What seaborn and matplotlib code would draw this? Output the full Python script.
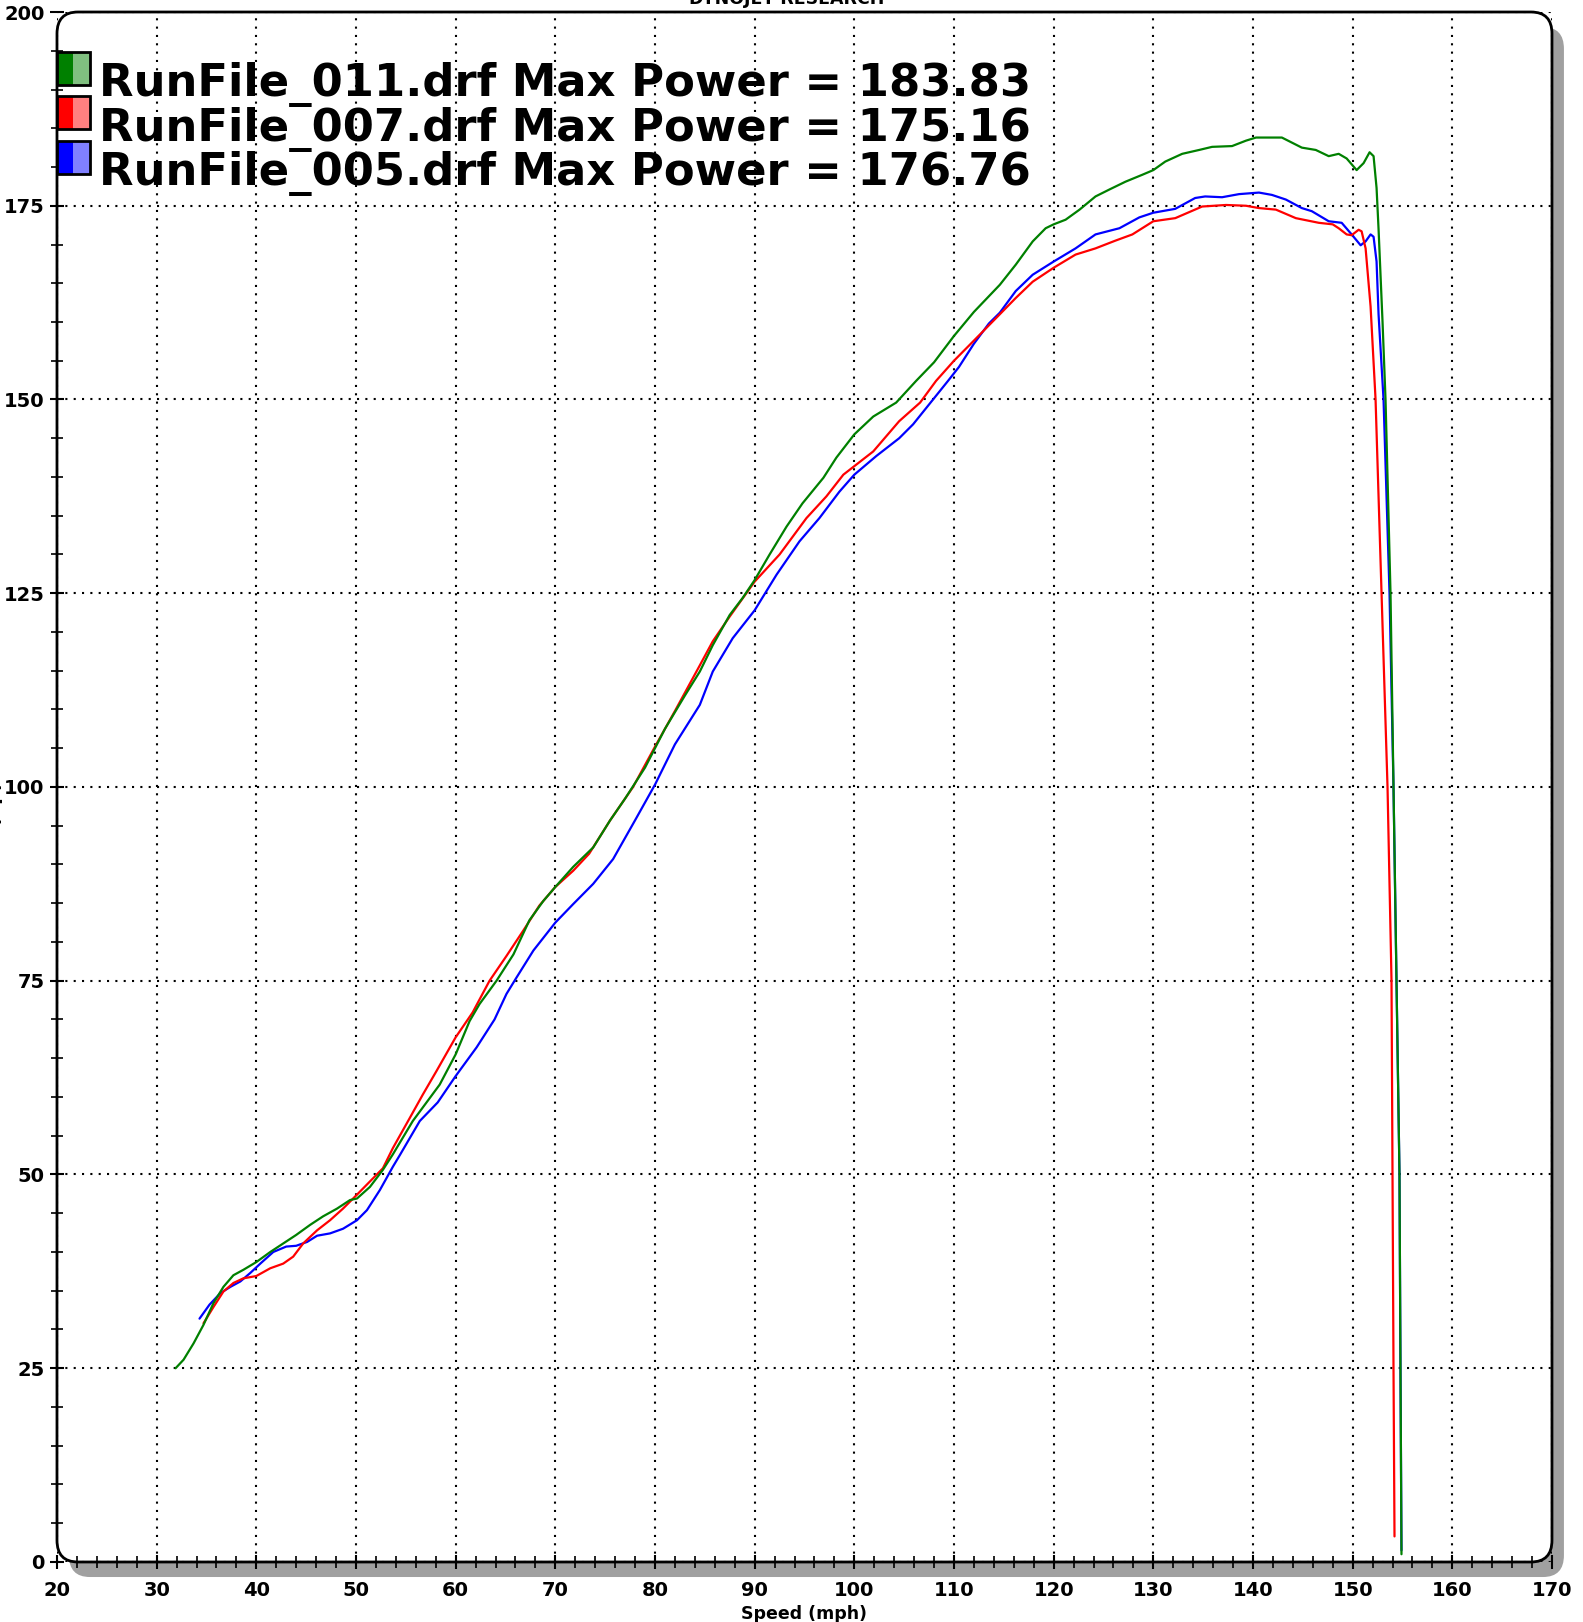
import matplotlib
matplotlib.use("Agg")
import matplotlib.pyplot as plt
import seaborn as sns
import pandas as pd
from matplotlib.patches import FancyBboxPatch, Rectangle
from matplotlib.ticker import MultipleLocator

# ---------------- data ----------------
run_names = ["RunFile_011.drf", "RunFile_007.drf", "RunFile_005.drf"]
max_power = ["183.83", "175.16", "176.76"]
line_colors = ["#008000", "#ff0000", "#0000ff"]
light_colors = ["#80c080", "#ff8080", "#8080ff"]

green_speed = [31.9, 32.7, 33.7, 34.7, 35.7, 36.7, 37.7, 38.7, 40.0, 41.4, 42.7, 44.0, 45.4, 46.7,
               48.1, 49.4, 50.1, 51.4, 52.7, 53.7, 55.7, 58.4, 60.0, 61.4, 62.4, 64.1, 65.8, 67.4,
               68.8, 70.0, 71.8, 73.8, 75.5, 77.0, 79.0, 81.0, 83.0, 84.5, 85.8, 87.5, 88.8, 90.0,
               91.5, 93.2, 94.8, 96.9, 98.2, 100.0, 101.9, 104.2, 106.2, 108.0, 110.0, 112.0, 114.6,
               116.2, 117.9, 119.2, 120.0, 121.2, 122.6, 124.2, 125.6, 127.2, 128.9, 130.0, 131.2,
               132.9, 134.6, 135.9, 137.9, 139.3, 140.3, 142.9, 144.9, 146.3, 147.6, 148.6, 149.4,
               150.4, 151.1, 151.7, 152.1, 152.4, 152.6, 153.0, 153.3, 153.8, 154.1, 154.4, 154.7,
               154.8, 154.9]
green_power = [25.0, 26.1, 28.2, 30.6, 33.4, 35.5, 37.0, 37.7, 38.7, 40.0, 41.1, 42.2, 43.5, 44.6,
               45.6, 46.7, 46.9, 48.4, 50.6, 52.6, 56.9, 61.6, 65.5, 69.8, 72.0, 75.0, 78.4, 82.8,
               85.3, 87.1, 89.7, 92.2, 95.7, 98.5, 102.5, 107.5, 111.8, 114.9, 118.3, 122.2, 124.4, 126.7,
               130.0, 133.6, 136.6, 139.9, 142.5, 145.5, 147.8, 149.6, 152.4, 154.8, 158.2, 161.3, 164.8,
               167.4, 170.4, 172.1, 172.6, 173.2, 174.5, 176.2, 177.1, 178.1, 179.0, 179.6, 180.7,
               181.7, 182.2, 182.6, 182.7, 183.4, 183.8, 183.8, 182.5, 182.2, 181.4, 181.7, 181.1,
               179.6, 180.5, 181.9, 181.4, 177.3, 172.0, 160.0, 150.0, 125.0, 100.0, 75.0, 50.0,
               25.0, 1.0]

red_speed = [34.7, 35.7, 36.7, 37.7, 38.7, 40.0, 41.4, 42.7, 43.7, 44.7, 46.1, 47.4, 48.7, 50.1,
             51.4, 52.7, 53.7, 55.4, 56.7, 58.1, 60.0, 61.7, 63.4, 65.1, 66.8, 68.4, 70.0, 71.8,
             73.4, 75.5, 77.8, 80.0, 82.0, 84.5, 85.8, 87.5, 90.0, 92.5, 95.2, 97.2, 98.9, 100.0,
             101.9, 104.5, 106.6, 108.2, 110.0, 112.0, 114.6, 116.2, 117.9, 120.0, 122.2, 124.2,
             126.2, 127.9, 130.0, 132.2, 134.9, 137.3, 139.3, 140.6, 142.3, 144.3, 146.6, 148.0,
             148.6, 149.4, 149.9, 150.6, 150.9, 151.3, 151.8, 152.3, 152.9, 153.5, 153.9, 154.0,
             154.1, 154.2]
red_power = [30.8, 32.9, 34.9, 36.0, 36.6, 36.9, 37.9, 38.5, 39.4, 41.1, 42.8, 44.1, 45.6, 47.4,
             49.1, 50.8, 53.4, 57.3, 60.3, 63.4, 67.7, 70.9, 75.0, 78.2, 81.5, 84.7, 87.1, 89.2,
             91.4, 95.7, 100.0, 105.2, 109.8, 115.7, 118.8, 122.0, 126.5, 130.0, 134.7, 137.5, 140.3, 141.4,
             143.3, 147.2, 149.6, 152.4, 155.0, 157.6, 161.0, 163.1, 165.2, 167.0, 168.7, 169.5,
             170.5, 171.3, 173.0, 173.4, 174.9, 175.1, 175.0, 174.7, 174.5, 173.4, 172.8, 172.6,
             172.1, 171.3, 171.2, 171.9, 171.7, 169.5, 162.0, 150.0, 125.0, 100.0, 75.0, 50.0,
             25.0, 3.3]

blue_speed = [34.3, 35.3, 36.4, 37.4, 38.4, 39.4, 40.4, 41.7, 43.0, 44.0, 45.1, 46.1, 47.4, 48.7,
              50.1, 51.1, 52.4, 53.7, 54.4, 56.4, 58.2, 60.0, 62.1, 63.9, 65.1, 66.1, 67.8, 70.0,
              71.8, 73.8, 75.8, 78.0, 80.0, 82.0, 84.5, 85.8, 87.8, 90.0, 92.2, 94.5, 96.5, 98.5,
              100.0, 102.2, 104.5, 105.9, 107.9, 109.4, 110.5, 112.0, 113.5, 114.6, 116.2, 117.9,
              120.0, 122.2, 124.2, 126.6, 128.6, 130.0, 132.2, 134.2, 135.2, 136.9, 138.6, 140.6,
              141.9, 143.3, 144.9, 145.9, 147.6, 148.9, 149.9, 150.8, 151.3, 151.8, 152.1, 152.4,
              152.6, 153.1, 153.7, 154.1, 154.4, 154.7, 154.8, 154.9]
blue_power = [31.4, 33.2, 34.7, 35.5, 36.2, 37.3, 38.5, 40.0, 40.7, 40.8, 41.3, 42.1, 42.4, 43.0,
              44.1, 45.4, 48.0, 51.0, 52.5, 56.9, 59.3, 62.7, 66.4, 70.0, 73.3, 75.4, 78.9, 82.5,
              84.9, 87.5, 90.7, 95.7, 100.3, 105.5, 110.6, 114.9, 119.2, 122.8, 127.4, 131.7, 134.7, 138.1,
              140.3, 142.7, 145.0, 146.8, 150.0, 152.4, 154.2, 157.2, 159.8, 161.2, 164.0, 166.1,
              167.8, 169.5, 171.3, 172.1, 173.5, 174.1, 174.6, 176.0, 176.2, 176.1, 176.5, 176.7,
              176.4, 175.8, 174.7, 174.3, 173.0, 172.8, 171.3, 169.9, 170.4, 171.3, 171.0, 167.8,
              161.0, 150.0, 125.0, 100.0, 75.0, 50.0, 25.0, 1.5]

x_ticks = list(range(20, 171, 10))
y_ticks = list(range(0, 201, 25))

# ---------------- build table ----------------
frames = []
for name, sp, pw in zip(run_names, [green_speed, red_speed, blue_speed],
                        [green_power, red_power, blue_power]):
    frames.append(pd.DataFrame({"speed": sp, "power": pw, "run": name}))
df = pd.concat(frames, ignore_index=True)

# ---------------- style ----------------
sns.set_theme(style="ticks")
plt.rcParams["font.family"] = ["DejaVu Sans"]
plt.rcParams["font.weight"] = "bold"
plt.rcParams["text.color"] = "black"
plt.rcParams["axes.labelcolor"] = "black"
plt.rcParams["xtick.color"] = "black"
plt.rcParams["ytick.color"] = "black"
plt.rcParams["axes.labelweight"] = "bold"

fig = plt.figure(figsize=(15.83, 16.22), dpi=100)
ax = fig.add_axes([0.0360, 0.0370, 0.9444, 0.9556])

# frame: shadow + rounded white panel
shadow = FancyBboxPatch((0.008, -0.0097), 1.0, 1.0,
                        boxstyle="round,pad=0,rounding_size=0.014",
                        transform=ax.transAxes, facecolor="#a0a0a0", edgecolor="none",
                        clip_on=False, zorder=0)
panel = FancyBboxPatch((0, 0), 1.0, 1.0,
                       boxstyle="round,pad=0,rounding_size=0.014",
                       transform=ax.transAxes, facecolor="white", edgecolor="black",
                       linewidth=2, clip_on=False, zorder=0.1)
ax.add_patch(shadow)
ax.add_patch(panel)
ax.patch.set_visible(False)
for s in ax.spines.values():
    s.set_visible(False)

sns.lineplot(data=df, x="speed", y="power", hue="run", hue_order=run_names[::-1],
             palette=dict(zip(run_names, line_colors)), sort=False, estimator=None,
             linewidth=1.6, legend=False, ax=ax, zorder=3)

ax.set_xlim(20, 170)
ax.set_ylim(0, 200)
ax.set_xticks(x_ticks)
ax.set_yticks(y_ticks)
ax.xaxis.set_minor_locator(MultipleLocator(2))
ax.yaxis.set_minor_locator(MultipleLocator(5))
ax.grid(True, which="major", color="black", linestyle=(0, (1, 3)), linewidth=1.5)
ax.tick_params(axis="both", which="major", direction="inout", length=10, width=1.5,
               labelsize=14, bottom=True, left=True, top=False, right=False)
ax.tick_params(axis="x", which="major", pad=9)
ax.tick_params(axis="y", which="major", pad=4)
ax.tick_params(axis="both", which="minor", direction="inout", length=8, width=1.2,
               bottom=True, left=True, top=False, right=False)

ax.set_xlabel("Speed (mph)", fontsize=12.5, fontweight="bold", labelpad=3)
ax.set_ylabel("")

# legend: split colour squares and big text
row_top = [0.9745, 0.9458, 0.9168]
baselines = [0.9457, 0.9170, 0.8883]
for i in range(3):
    top = row_top[i]
    h = 0.0213
    ax.add_patch(Rectangle((0.0, top - h), 0.011, h, transform=ax.transAxes,
                           facecolor=line_colors[i], edgecolor="none", clip_on=False, zorder=5))
    ax.add_patch(Rectangle((0.011, top - h), 0.011, h, transform=ax.transAxes,
                           facecolor=light_colors[i], edgecolor="none", clip_on=False, zorder=5))
    ax.add_patch(Rectangle((0.0, top - h), 0.022, h, transform=ax.transAxes,
                           facecolor="none", edgecolor="black", linewidth=2, clip_on=False, zorder=6))
    ax.text(0.0283, baselines[i], f"{run_names[i]} Max Power = {max_power[i]}",
            transform=ax.transAxes, fontsize=32.3, fontweight="bold", ha="left",
            va="baseline", color="black", zorder=6)

# cut-off header and axis title (as in the reference, they sit at the canvas edge)
fig.text(0.4967, 1 - 4 / 1622, "DYNOJET RESEARCH", ha="center", va="baseline",
         fontsize=12.5, fontweight="bold")
fig.text(3 / 1583, 780 / 1622, "Power (hp)", rotation=90, ha="right", va="center",
         fontsize=14, fontweight="bold")

fig.savefig("out.png", dpi=100)
